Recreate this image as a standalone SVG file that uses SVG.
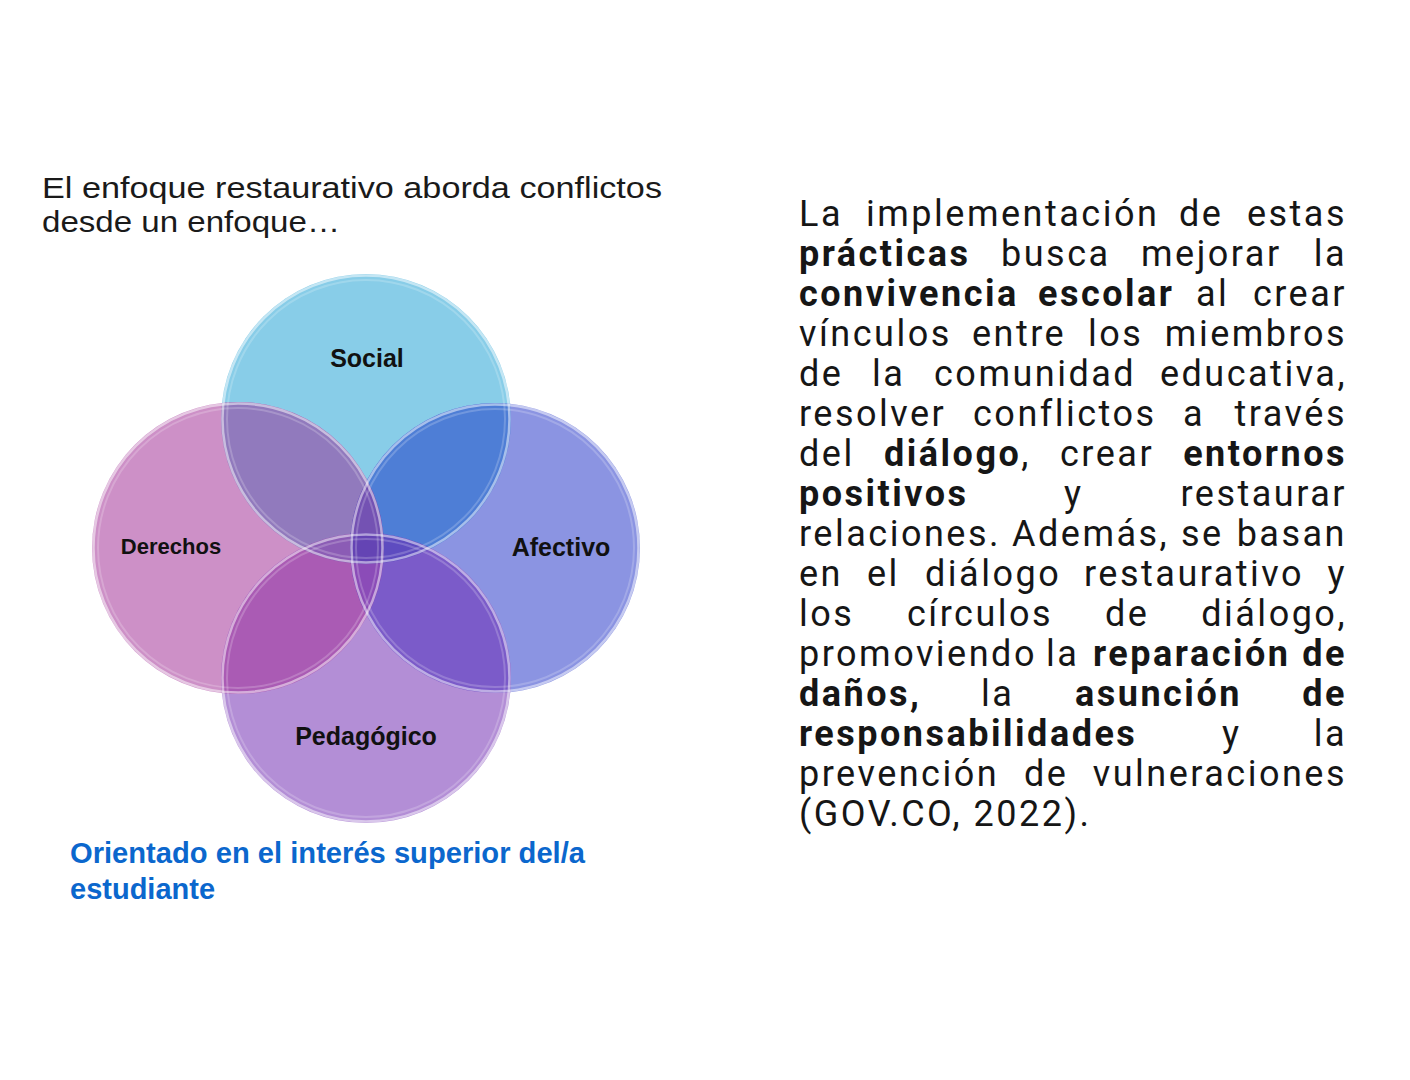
<svg xmlns="http://www.w3.org/2000/svg" width="1410" height="1080" viewBox="0 0 1410 1080">
<style>
.title{font-family:"Liberation Sans",Arial,sans-serif;font-size:29px;fill:#1a1a1a}
.lbl{font-family:"Liberation Sans",Arial,sans-serif;font-weight:700;font-size:25px;fill:#111;text-anchor:middle}
.blue{font-family:"Liberation Sans",Arial,sans-serif;font-weight:700;font-size:29px;fill:#0B67CD}
.p{font-family:Roboto,"Liberation Sans",sans-serif;font-size:36px;letter-spacing:2.5px;fill:#161616}
.b{font-weight:700}
.e{text-anchor:end}
.rim{fill:none;stroke:#fff;stroke-opacity:.5;stroke-width:2.5}
.rim2{fill:none;stroke:#fff;stroke-opacity:.2;stroke-width:2}
</style>
<defs>
<clipPath id="cS"><circle cx="366" cy="419" r="145"/></clipPath>
<clipPath id="cD"><circle cx="238" cy="548" r="146"/></clipPath>
<clipPath id="cA"><circle cx="495" cy="548" r="145"/></clipPath>
<clipPath id="cP"><circle cx="366" cy="678" r="145"/></clipPath>
</defs>
<rect width="1410" height="1080" fill="#fff"/>

<g id="title">
<text class="title" x="42" y="198" textLength="620" lengthAdjust="spacingAndGlyphs">El enfoque restaurativo aborda conflictos</text>
<text class="title" x="42" y="232" textLength="298" lengthAdjust="spacingAndGlyphs">desde un enfoque…</text>
</g>

<g id="venn">
<g id="node-social"><circle cx="366" cy="419" r="145" fill="#88CDE8"/></g>
<g id="node-derechos"><circle cx="238" cy="548" r="146" fill="#CD90C7"/></g>
<g id="node-afectivo"><circle cx="495" cy="548" r="145" fill="#8B94E2"/></g>
<g id="node-pedagogico"><circle cx="366" cy="678" r="145" fill="#B38ED6"/></g>
<g id="overlaps">
<g clip-path="url(#cS)"><circle cx="238" cy="548" r="146" fill="#917ABD"/><circle cx="495" cy="548" r="145" fill="#4E7ED6"/></g>
<g clip-path="url(#cP)"><circle cx="238" cy="548" r="146" fill="#AA5BB4"/><circle cx="495" cy="548" r="145" fill="#7B5BC9"/></g>
<g clip-path="url(#cD)"><circle cx="495" cy="548" r="145" fill="#7B52B6"/></g>
<g clip-path="url(#cS)"><g clip-path="url(#cD)"><circle cx="495" cy="548" r="145" fill="#7452B3"/><circle cx="366" cy="678" r="145" fill="#8B5CB5"/></g></g>
<g clip-path="url(#cS)"><g clip-path="url(#cA)"><circle cx="366" cy="678" r="145" fill="#5E4CC0"/></g></g>
<g clip-path="url(#cP)"><g clip-path="url(#cD)"><circle cx="495" cy="548" r="145" fill="#8B4CB8"/></g></g>
<g clip-path="url(#cS)"><g clip-path="url(#cD)"><g clip-path="url(#cA)"><circle cx="366" cy="678" r="145" fill="#6444B4"/></g></g></g>
</g>
<g id="rims">
<circle class="rim" cx="366" cy="419" r="143.5"/>
<circle class="rim" cx="238" cy="548" r="144.5"/>
<circle class="rim" cx="495" cy="548" r="143.5"/>
<circle class="rim" cx="366" cy="678" r="143.5"/>
<circle class="rim2" cx="366" cy="419" r="139"/>
<circle class="rim2" cx="238" cy="548" r="140"/>
<circle class="rim2" cx="495" cy="548" r="139"/>
<circle class="rim2" cx="366" cy="678" r="139"/>
</g>
<g id="labels">
<text class="lbl" x="367" y="367">Social</text>
<text class="lbl" x="171" y="554" style="font-size:22px">Derechos</text>
<text class="lbl" x="561" y="556">Afectivo</text>
<text class="lbl" x="366" y="745">Pedagógico</text>
</g>
</g>

<g id="connectors"></g>

<g id="caption">
<text class="blue" x="70" y="863" textLength="515" lengthAdjust="spacingAndGlyphs">Orientado en el interés superior del/a</text>
<text class="blue" x="70" y="899">estudiante</text>
</g>

<g id="paragraph" class="p">
<text class="p" x="799" y="226">La</text><text class="p" x="866" y="226">implementación</text><text class="p" x="1179" y="226">de</text><text class="p e" x="1347" y="226">estas</text>
<text class="p b" x="799" y="266">prácticas</text><text class="p" x="1001" y="266">busca</text><text class="p" x="1141" y="266">mejorar</text><text class="p e" x="1347" y="266">la</text>
<text class="p b" x="799" y="306">convivencia</text><text class="p b" x="1038" y="306">escolar</text><text class="p" x="1196" y="306">al</text><text class="p e" x="1347" y="306">crear</text>
<text class="p" x="799" y="346">vínculos</text><text class="p" x="972" y="346">entre</text><text class="p" x="1088" y="346">los</text><text class="p e" x="1347" y="346">miembros</text>
<text class="p" x="799" y="386">de</text><text class="p" x="872" y="386">la</text><text class="p" x="934" y="386">comunidad</text><text class="p e" x="1347" y="386">educativa,</text>
<text class="p" x="799" y="426">resolver</text><text class="p" x="973" y="426">conflictos</text><text class="p" x="1183" y="426">a</text><text class="p e" x="1347" y="426">través</text>
<text class="p" x="799" y="466">del</text><text class="p" x="884" y="466"><tspan class="b">diálogo</tspan>,</text><text class="p" x="1060" y="466">crear</text><text class="p b e" x="1347" y="466">entornos</text>
<text class="p b" x="799" y="506">positivos</text><text class="p" x="1064" y="506">y</text><text class="p e" x="1347" y="506">restaurar</text>
<text class="p" x="799" y="546">relaciones.</text><text class="p" x="1012" y="546">Además,</text><text class="p" x="1181" y="546">se</text><text class="p e" x="1347" y="546">basan</text>
<text class="p" x="799" y="586">en</text><text class="p" x="867" y="586">el</text><text class="p" x="925" y="586">diálogo</text><text class="p" x="1084" y="586">restaurativo</text><text class="p e" x="1347" y="586">y</text>
<text class="p" x="799" y="626">los</text><text class="p" x="907" y="626">círculos</text><text class="p" x="1105" y="626">de</text><text class="p e" x="1347" y="626">diálogo,</text>
<text class="p" x="799" y="666">promoviendo</text><text class="p" x="1046" y="666">la</text><text class="p b" x="1093" y="666">reparación</text><text class="p b e" x="1347" y="666">de</text>
<text class="p b" x="799" y="706">daños,</text><text class="p" x="981" y="706">la</text><text class="p b" x="1075" y="706">asunción</text><text class="p b e" x="1347" y="706">de</text>
<text class="p b" x="799" y="746">responsabilidades</text><text class="p" x="1222" y="746">y</text><text class="p e" x="1347" y="746">la</text>
<text class="p" x="799" y="786">prevención</text><text class="p" x="1024" y="786">de</text><text class="p e" x="1347" y="786">vulneraciones</text>
<text class="p" x="799" y="826">(GOV.CO, 2022).</text>
</g>
</svg>
